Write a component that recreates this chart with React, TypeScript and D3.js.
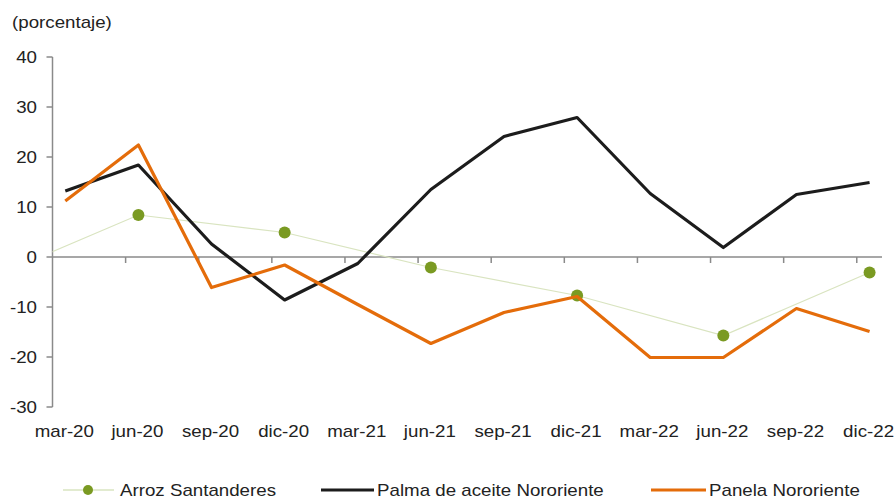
import React from "react";
import * as d3 from "d3";

const categories = ["mar-20","jun-20","sep-20","dic-20","mar-21","jun-21","sep-21","dic-21","mar-22","jun-22","sep-22","dic-22"];
const palmaValues = [13.2, 18.4, 2.6, -8.6, -1.3, 13.5, 24.1, 27.9, 12.7, 1.9, 12.5, 14.9];
const panelaValues = [11.2, 22.4, -6.1, -1.6, -9.5, -17.3, -11.1, -7.9, -20.1, -20.1, -10.3, -14.9];
// Arroz is semiannual; first value is dic-19 (just before the axis, clipped)
const arrozPeriods = ["dic-19","jun-20","dic-20","jun-21","dic-21","jun-22","dic-22"];
const arrozValues = [-4.1, 8.4, 4.9, -2.1, -7.7, -15.7, -3.1];
const yTicks = [-30, -20, -10, 0, 10, 20, 30, 40];
const seriesNames = ["Arroz Santanderes", "Palma de aceite Nororiente", "Panela Nororiente"];

const W = 896, H = 500;
const FONT = "'Liberation Sans', Arial, sans-serif";
const SX = 1.17;
const C_PALMA = "#1c1c1c";
const C_PANELA = "#E46C0A";
const C_ARROZ_LINE = "#D9E4C0";
const C_ARROZ_MARK = "#7A9A22";
const C_AXIS = "#8a8a8a";

const idxOf = (p: string) => (p === "dic-19" ? -1 : categories.indexOf(p));

function T({ x, y, anchor = "start", children }: any) {
  return (
    <text
      transform={`translate(${x},${y}) scale(${SX},1)`}
      textAnchor={anchor}
      fontFamily={FONT}
      fontSize={16}
      fill="#222"
    >
      {children}
    </text>
  );
}

export default function App() {
  const x = d3.scaleLinear().domain([-0.175, 11.17]).range([52.5, 882]);
  const y = d3.scaleLinear().domain([-30, 40]).range([407, 57]);
  const tickOffset = 0.175;

  const line = d3.line<[number, number]>().x((d) => x(d[0])).y((d) => y(d[1]));
  const palma = line(palmaValues.map((v, i) => [i, v] as [number, number]));
  const panela = line(panelaValues.map((v, i) => [i, v] as [number, number]));
  const arrozPts = arrozPeriods.map((p, i) => [idxOf(p), arrozValues[i]] as [number, number]);
  const arroz = line(arrozPts);

  const x0 = x.range()[0], x1 = x.range()[1];
  const legendY = 490;

  return (
    <svg width={W} height={H} style={{ display: "block", position: "absolute", left: 0, top: 0 }}>
      <defs>
        <clipPath id="plot">
          <rect x={x0} y={0} width={x1 - x0} height={H} />
        </clipPath>
      </defs>
      <rect width={W} height={H} fill="#fff" />
      <T x={12} y={28}>(porcentaje)</T>

      {/* y axis */}
      <line x1={x0} x2={x0} y1={y(40)} y2={y(-30)} stroke={C_AXIS} strokeWidth={1.5} />
      {yTicks.map((t) => (
        <g key={t}>
          <line x1={x0 - 6} x2={x0} y1={y(t)} y2={y(t)} stroke={C_AXIS} strokeWidth={1.5} />
          <T x={37} y={y(t) + 6} anchor="end">{t}</T>
        </g>
      ))}

      {/* x axis at zero */}
      <line x1={x0} x2={x1} y1={y(0)} y2={y(0)} stroke={C_AXIS} strokeWidth={1.5} />
      {categories.slice(1).map((c, i) => (
        <line key={c} x1={x(i + 1 - tickOffset)} x2={x(i + 1 - tickOffset)} y1={y(0)} y2={y(0) + 6} stroke={C_AXIS} strokeWidth={1.5} />
      ))}
      {categories.map((c, i) => (
        <T key={c} x={x(i) - 1} y={437} anchor="middle">{c}</T>
      ))}

      {/* series */}
      <g clipPath="url(#plot)">
        <path d={arroz || ""} fill="none" stroke={C_ARROZ_LINE} strokeWidth={1.2} />
      </g>
      {arrozPts.filter((p) => p[0] >= 0).map((p, i) => (
        <circle key={i} cx={x(p[0])} cy={y(p[1])} r={6} fill={C_ARROZ_MARK} />
      ))}
      <path d={palma || ""} fill="none" stroke={C_PALMA} strokeWidth={3.2} strokeLinejoin="round" />
      <path d={panela || ""} fill="none" stroke={C_PANELA} strokeWidth={3.2} strokeLinejoin="round" />

      {/* legend */}
      <line x1={63} x2={114} y1={legendY} y2={legendY} stroke={C_ARROZ_LINE} strokeWidth={1.5} />
      <circle cx={88} cy={legendY} r={5} fill={C_ARROZ_MARK} />
      <T x={120} y={legendY + 6}>{seriesNames[0]}</T>
      <line x1={321} x2={374} y1={legendY} y2={legendY} stroke={C_PALMA} strokeWidth={3.2} />
      <T x={377} y={legendY + 6}>{seriesNames[1]}</T>
      <line x1={651} x2={706} y1={legendY} y2={legendY} stroke={C_PANELA} strokeWidth={3.2} />
      <T x={709} y={legendY + 6}>{seriesNames[2]}</T>
    </svg>
  );
}
